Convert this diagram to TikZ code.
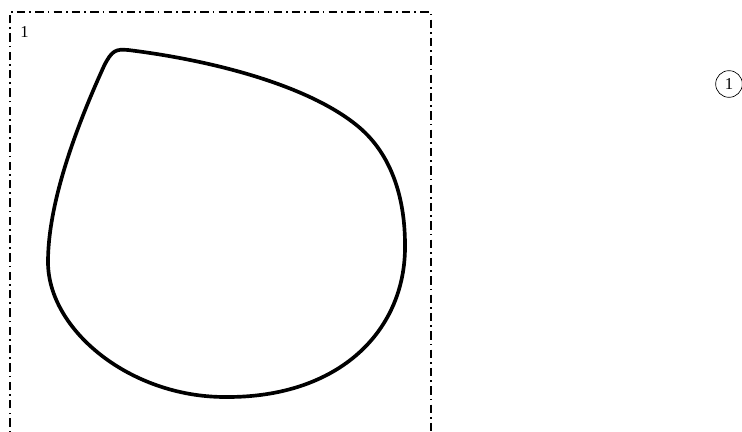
\documentclass[tikz,border=0pt]{standalone}
\usepackage{fontspec}
\setmainfont{Liberation Serif}
\usepackage{xcolor}

\begin{document}
\begin{tikzpicture}[x=0.6pt,y=-0.6pt]
            \useasboundingbox (0,0) rectangle (742,432);

            % Frame
            \draw[line width=1pt, dash pattern=on 5pt off 2.5pt on 1pt off 2.5pt] (10,445) -- (10,12) -- (431,12) -- (431,445);
            \node[inner sep=0pt] (framelabel) at (24.5,32) {1};

            % Outline
            \draw[line width=2.2pt, line join=round] (128,50)
                .. controls (210,60) and (310,85) .. (360,128)
                .. controls (390,154) and (405,195) .. (405,245)
                .. controls (406,330) and (340,398) .. (225,397)
                .. controls (130,397) and (48,330) .. (48,262)
                .. controls (48,200) and (79,121) .. (104,66)
                .. controls (112,50) and (116,49) .. cycle;

            % Marker
            \node[circle, draw, inner sep=0pt, minimum size=16pt] (marker) at (729,84) {1};
        \end{tikzpicture}
\end{document}
